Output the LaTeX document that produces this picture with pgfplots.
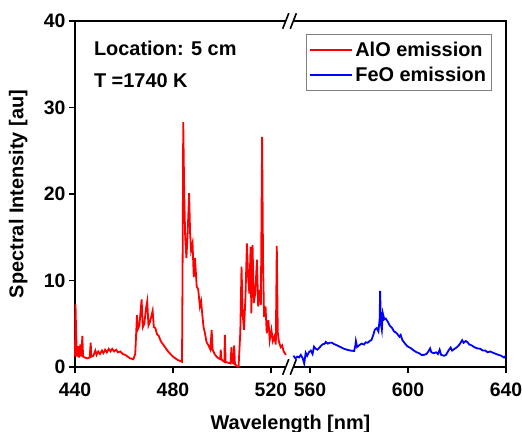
\documentclass[border=0pt]{standalone}
\usepackage{fontspec}
\setmainfont{Liberation Sans}
\usepackage{pgfplots}
\usepackage{pgfplotstable}
\pgfplotsset{compat=1.18}

% AlO band, wavelength in nm
\pgfplotstableread{
wl I
440.0 1.2
440.2 7.3
440.5 3.5
440.8 1.2
441.3 2.4
441.6 1.1
442.2 2.6
442.6 1.2
443.0 3.6
443.3 1.2
444.0 1.1
445.0 1.0
446.0 1.1
446.4 2.8
446.7 1.2
447.5 1.3
448.3 1.9
448.8 1.4
449.5 1.8
450.2 1.5
451.0 1.9
451.6 1.6
452.3 2.0
453.0 1.7
453.8 2.1
454.5 1.8
455.2 2.1
456.0 1.8
456.8 2.0
457.5 1.7
458.5 1.8
459.5 1.5
460.5 1.4
461.5 1.2
462.5 1.0
463.8 0.9
464.6 1.5
465.0 4.0
465.3 6.0
465.7 4.4
466.3 4.8
467.2 7.8
467.7 4.6
468.3 5.0
469.0 6.8
469.5 7.6
470.0 4.8
470.6 5.2
471.7 6.5
472.2 4.6
472.8 4.5
473.5 3.8
474.2 3.6
475.0 3.0
476.0 2.6
477.0 2.2
478.0 1.8
479.0 1.5
480.0 1.2
481.0 1.0
482.0 0.8
483.0 0.7
483.7 0.6
484.0 15.0
484.2 28.3
484.6 20.0
485.0 15.0
485.5 12.6
486.0 15.5
486.6 20.1
487.0 15.5
487.4 13.5
488.0 14.3
488.5 10.4
489.0 12.6
489.7 9.3
490.3 9.0
491.0 7.0
491.5 7.6
492.0 6.0
492.5 4.6
493.0 4.0
493.7 2.9
494.5 2.5
495.3 2.0
495.8 4.3
496.2 2.0
497.0 1.5
497.8 1.2
498.6 1.0
499.3 0.9
499.5 2.0
499.8 0.9
500.5 0.7
501.0 0.6
501.2 3.7
501.5 0.6
502.5 0.5
503.5 0.4
503.9 2.3
504.3 0.5
504.8 0.4
505.0 2.5
505.3 0.4
506.0 0.1
506.8 0.05
507.5 4.0
508.0 11.6
508.5 6.0
509.0 4.3
509.6 8.0
510.2 14.3
510.7 10.4
511.2 8.5
511.7 13.9
512.0 6.2
512.5 14.1
513.0 7.4
513.6 8.5
514.3 12.4
514.8 7.0
515.4 8.9
515.9 7.2
516.4 26.6
516.8 12.0
517.2 5.8
517.8 7.0
518.3 3.9
519.0 5.4
519.5 3.1
520.2 4.3
520.8 3.0
521.4 3.5
522.0 2.6
522.4 14.0
522.8 4.0
523.3 2.9
524.0 2.3
524.6 2.5
525.2 1.8
525.7 1.6
526.1 1.4
}\alo

% FeO band, wavelength in nm
\pgfplotstableread{
wl I
553.2 1.3
554.0 1.0
554.8 1.2
555.5 1.1
556.2 1.4
557.0 1.0
557.6 0.4
558.2 1.65
558.8 1.3
559.5 1.7
560.3 1.9
561.0 1.5
561.6 2.35
562.3 2.1
563.0 2.0
564.0 2.3
565.0 2.6
566.0 2.7
566.4 2.9
567.2 2.7
568.0 2.8
569.0 2.8
569.8 2.65
571.0 2.5
572.5 2.3
573.9 2.1
575.0 2.0
576.5 1.9
578.0 1.85
578.5 2.5
578.7 3.0
579.2 2.3
580.0 2.5
581.0 2.7
582.0 2.6
582.7 2.85
583.5 2.8
584.3 3.0
585.0 3.1
585.7 3.6
586.4 4.3
587.2 4.5
587.9 4.1
588.4 5.5
588.6 8.8
588.9 5.0
589.3 4.3
589.7 6.2
590.3 5.5
590.9 5.6
591.8 5.2
592.5 4.8
593.5 4.5
594.3 4.1
595.0 4.0
595.7 3.8
596.5 3.5
597.0 3.7
597.7 3.1
598.5 2.8
599.7 2.4
601.0 2.2
602.4 1.9
603.5 1.7
604.5 1.6
605.5 1.4
606.5 1.4
607.5 1.5
608.3 1.8
609.0 2.15
609.5 1.7
610.5 1.6
611.5 1.7
612.2 1.5
612.9 2.0
613.5 1.4
614.7 1.3
615.5 1.4
616.5 1.9
617.4 2.25
618.0 1.9
619.0 2.1
620.0 2.3
621.0 2.6
622.1 3.1
622.7 2.8
623.5 3.0
624.2 2.9
625.0 2.6
626.0 2.5
627.0 2.3
628.3 2.15
629.5 2.1
630.5 1.9
631.5 1.9
632.5 1.7
633.5 1.8
635.1 1.6
636.0 1.5
637.0 1.4
638.0 1.3
639.2 1.1
640.0 1.3
}\feo

\begin{document}
\begin{tikzpicture}
\path[use as bounding box] (-75bp,-65bp) rectangle (447bp,367bp);
\begin{axis}[
    scale only axis,
    width=431bp, height=346bp,
    xmin=440, xmax=616,
    ymin=0, ymax=40,
    clip=false,
    % right part is shifted left by 24 nm (broken axis)
    xtick={440,480,520,536,576,616},
    xticklabels={440,480,520,560,600,640},
    ytick={0,10,20,30,40},
    tick pos=left,
    tick align=outside,
    major tick length=6bp,
    axis line style={line width=2.2bp},
    every tick/.style={line width=1.8bp, black},
    font=\fontsize{20}{24}\selectfont\bfseries,
    tick label style={font=\fontsize{19.5}{22}\selectfont\bfseries},
    xticklabel style={yshift=-6bp},
    /pgf/number format/assume math mode=true,
    xlabel={Wavelength [nm]},
    ylabel={Spectral Intensity [au]},
    xlabel style={at={(axis description cs:0.5,-0.165)}, anchor=center},
    ylabel style={at={(axis description cs:-0.132,0.5)}, anchor=center},
    legend style={at={(axis description cs:0.966,0.962)}, anchor=north east,
        draw=gray, line width=0.7bp, inner sep=3bp,
        nodes={inner ysep=4.5bp},
        font=\fontsize{20}{24}\selectfont\bfseries},
    legend cell align=left,
    legend image code/.code={\draw[#1, line width=1.8bp] (0bp,0bp) -- (42bp,0bp);},
]
\addplot[red, line width=1.8bp] table[x=wl, y=I] {\alo};
\addlegendentry{AlO emission}
\addplot[blue, line width=1.8bp] table[x expr=\thisrow{wl}-24, y=I] {\feo};
\addlegendentry{FeO emission}

\node[anchor=west] at (rel axis cs:0.036,0.922) {Location: 5 cm};
\node[anchor=west] at (rel axis cs:0.036,0.829) {T =1740 K};

% axis break marks
\fill[white] (axis cs:526.2,-0.6) rectangle (axis cs:529.4,0.6);
\fill[white] (axis cs:526.2,39.4) rectangle (axis cs:529.4,40.6);
\draw[line width=1.6bp] (axis cs:524.8,-0.9) -- (axis cs:527.3,0.9);
\draw[line width=1.6bp] (axis cs:527.9,-0.9) -- (axis cs:530.4,0.9);
\draw[line width=1.6bp] (axis cs:524.8,39.1) -- (axis cs:527.3,40.9);
\draw[line width=1.6bp] (axis cs:527.9,39.1) -- (axis cs:530.4,40.9);
\end{axis}
\end{tikzpicture}
\end{document}
